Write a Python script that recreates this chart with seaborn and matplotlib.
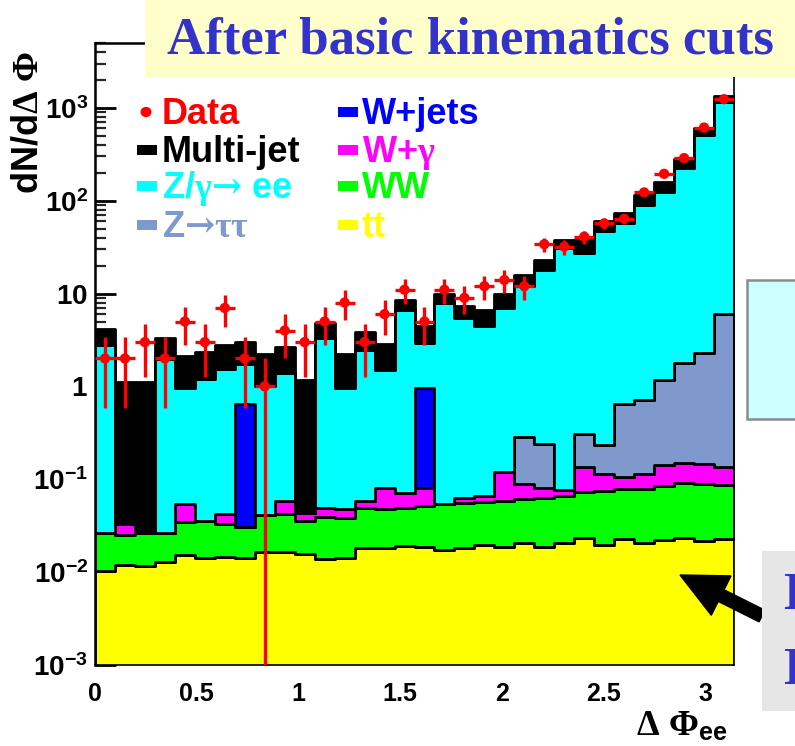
import numpy as np
import pandas as pd
import matplotlib
matplotlib.use("Agg")
import matplotlib.pyplot as plt
import seaborn as sns
from matplotlib.patches import Rectangle, FancyArrow, Circle
from matplotlib.transforms import Affine2D
from matplotlib.ticker import FixedLocator, FixedFormatter, LogLocator, NullFormatter

# ---------------- data ----------------
n_bins = 32
phi_min, phi_max = 0.0, np.pi

data_counts = [2, 2, 3, 2, 5, 3, 7, 2, 1, 4, 3, 5, 8, 3, 6, 11,
               5, 11, 9, 12, 14, 12, 34, 32, 41, 57, 64, 123, 195, 288, 614, 1241]

tt = [0.0103, 0.0120, 0.0117, 0.0130, 0.0152, 0.0142, 0.0145, 0.0143,
      0.0163, 0.0165, 0.0156, 0.0138, 0.0142, 0.0181, 0.0181, 0.0189,
      0.0188, 0.0174, 0.0184, 0.0197, 0.0187, 0.0208, 0.0187, 0.0208,
      0.0236, 0.0197, 0.0226, 0.0208, 0.0221, 0.0236, 0.0214, 0.0226]
ww = [0.0164, 0.0132, 0.0145, 0.0137, 0.0195, 0.0214, 0.0189, 0.0167,
      0.0247, 0.0255, 0.0200, 0.0255, 0.0245, 0.0315, 0.0303, 0.0307,
      0.0332, 0.0364, 0.0368, 0.0373, 0.0397, 0.0412, 0.0448, 0.0452,
      0.0494, 0.0553, 0.0554, 0.0587, 0.0626, 0.0684, 0.0666, 0.0634]
w_gamma = [0.0, 0.0082, 0.0, 0.0, 0.0200, 0.0, 0.0086, 0.0,
           0.0, 0.0160, 0.0082, 0.0095, 0.0088, 0.0084, 0.0330, 0.0223,
           0.0294, 0.0, 0.0084, 0.0090, 0.0616, 0.0260, 0.0179, 0.0110,
           0.0640, 0.0380, 0.0290, 0.0335, 0.0563, 0.0590, 0.0570, 0.0510]
w_jets = [0, 0, 0, 0, 0, 0, 0, 0.61, 0, 0, 0, 0, 0, 0, 0, 0,
          0.89, 0, 0, 0, 0, 0, 0, 0, 0, 0, 0, 0, 0, 0, 0, 0]
z_tautau = [0, 0, 0, 0, 0, 0, 0, 0, 0, 0, 0, 0, 0, 0, 0, 0,
            0, 0, 0, 0, 0, 0.197, 0.161, 0, 0.168, 0.119, 0.533, 0.597, 1.03, 1.65, 2.16, 5.91]
z_ee = [2.80, 0, 0, 1.96, 0.915, 1.154, 1.508, 1.11,
        0.979, 1.342, 0, 3.29, 0.922, 2.44, 1.42, 6.53,
        1.93, 7.85, 5.44, 4.43, 6.88, 11.7, 17.9, 30.9,
        27.1, 46.6, 56.9, 89.9, 121.8, 223, 511, 1164]
multijet = [1.34, 1.09, 1.09, 1.35, 1.18, 1.15, 1.23, 1.24,
            1.19, 1.25, 1.12, 1.50, 1.24, 1.40, 1.33, 1.90,
            1.60, 2.10, 1.80, 2.20, 3.0, 4.0, 5.1, 7.0,
            10.6, 14.2, 16.3, 25.4, 38.0, 58.0, 92.0, 185.0]

process_names = ["Multi-jet", "Z/g->ee", "Z->tautau", "W+jets", "W+gamma", "WW", "tt"]
process_values = [multijet, z_ee, z_tautau, w_jets, w_gamma, ww, tt]
process_colors = ["#000000", "#00FFFF", "#7F99CC", "#0000FF", "#FF00FF", "#00FF00", "#FFFF00"]

x_ticks = [0, 0.5, 1, 1.5, 2, 2.5, 3]
x_tick_labels = ["0", "0.5", "1", "1.5", "2", "2.5", "3"]
y_ticks = [1e-3, 1e-2, 1e-1, 1, 10, 1e2, 1e3]
y_tick_labels = [r"$\mathbf{10^{-3}}$", r"$\mathbf{10^{-2}}$", r"$\mathbf{10^{-1}}$",
                 r"$\mathbf{1}\ $", r"$\mathbf{10}\ $", r"$\mathbf{10^{2}}$", r"$\mathbf{10^{3}}$"]

# ---------------- style ----------------
sns.set_theme(style="white")
plt.rcParams['font.family'] = ['Liberation Sans', 'DejaVu Sans']
plt.rcParams['font.weight'] = 'bold'
plt.rcParams['mathtext.fontset'] = 'custom'
plt.rcParams['mathtext.rm'] = 'Liberation Serif'
plt.rcParams['mathtext.it'] = 'Liberation Serif'
plt.rcParams['mathtext.bf'] = 'Liberation Sans:bold'
plt.rcParams['mathtext.sf'] = 'DejaVu Serif'

W, H = 795, 746
fig = plt.figure(figsize=(W / 100, H / 100), dpi=100)
fig.patch.set_facecolor("white")


def fx(x):
    return x / W


def fy(y):
    return 1 - y / H


ax_l, ax_r, ax_t, ax_b = 95, 734, 43, 665
ax = fig.add_axes([fx(ax_l), fy(ax_b), (ax_r - ax_l) / W, (ax_b - ax_t) / H])

edges = np.linspace(phi_min, phi_max, n_bins + 1)
centers = 0.5 * (edges[:-1] + edges[1:])
bw = edges[1] - edges[0]

rows = []
for name, vals in zip(process_names, process_values):
    for c, v in zip(centers, vals):
        rows.append({"phi": c, "w": v, "process": name})
df = pd.DataFrame(rows)

sns.histplot(data=df, x="phi", weights="w", hue="process", hue_order=process_names,
             bins=n_bins, binrange=(phi_min, phi_max), multiple="stack",
             element="step", fill=True,
             palette=dict(zip(process_names, process_colors)), alpha=1,
             edgecolor="black", linewidth=2.0, legend=False, ax=ax)
for coll in ax.collections:
    coll.set_zorder(3)

ax.set_yscale("log")
ax.set_xlim(phi_min, phi_max)
ax.set_ylim(1e-3, 5000)

# data points
data_arr = np.array(data_counts, dtype=float)
ax.errorbar(centers, data_arr, yerr=np.sqrt(data_arr), xerr=bw / 2, fmt="none",
            ecolor="#FF0000", elinewidth=2.4, capsize=0, zorder=5)
sns.scatterplot(x=centers, y=data_arr, color="#FF0000", s=55, edgecolor="none",
                zorder=6, ax=ax, legend=False)

# axes cosmetics
ax.set_xlabel("")
ax.set_ylabel("")
ax.xaxis.set_major_locator(FixedLocator(x_ticks))
ax.xaxis.set_major_formatter(FixedFormatter(x_tick_labels))
ax.yaxis.set_major_locator(FixedLocator(y_ticks))
ax.yaxis.set_major_formatter(FixedFormatter(y_tick_labels))
ax.yaxis.set_minor_locator(LogLocator(base=10, subs=np.arange(2, 10), numticks=20))
ax.yaxis.set_minor_formatter(NullFormatter())
ax.tick_params(axis="y", which="major", direction="in", length=15, width=2,
               left=True, right=False, pad=5, labelsize=20, colors="black")
ax.tick_params(axis="y", which="minor", direction="in", length=8, width=1.6,
               left=True, right=False)
ax.tick_params(axis="x", which="both", length=0, pad=12, labelsize=18, colors="black")
for lab in ax.get_xticklabels() + ax.get_yticklabels():
    lab.set_fontweight("bold")
for s in ["left", "right", "top", "bottom"]:
    ax.spines[s].set_visible(True)
    ax.spines[s].set_color("black")
    ax.spines[s].set_zorder(4)
ax.spines["left"].set_linewidth(1.8)
ax.spines["top"].set_linewidth(1.8)
ax.spines["right"].set_linewidth(1.2)
ax.spines["bottom"].set_linewidth(1.2)

# axis titles
fig.text(fx(28), fy(51), r"$\mathbf{dN/d}\Delta\ \Phi$", rotation=90,
         ha="center", va="top", fontsize=26, color="black")
fig.text(fx(636), fy(726), r"$\Delta\ \Phi_{\mathbf{ee}}$", ha="left",
         va="center", fontsize=26, color="black")

# legend (ROOT-like)
leg_rows = [124, 162, 198, 237]
col1_mark, col1_text = 137, 162
col2_mark, col2_text = 338, 362
entries_col1 = [("Data", "#FF0000", "dot"),
                ("Multi-jet", "#000000", "box"),
                (r"Z/$\gamma\mathsf{→}$ ee", "#00FFFF", "box"),
                (r"Z$\mathsf{→}\tau\tau$", "#7F99CC", "box")]
entries_col2 = [("W+jets", "#0000FF", "box"),
                (r"W+$\gamma$", "#FF00FF", "box"),
                ("WW", "#00FF00", "box"),
                ("tt", "#FFFF00", "box")]
for entries, mx, tx in [(entries_col1, col1_mark, col1_text),
                        (entries_col2, col2_mark, col2_text)]:
    for (lab, col, kind), yb in zip(entries, leg_rows):
        fig.text(fx(tx), fy(yb), lab, color=col, fontsize=26, fontweight="bold",
                 ha="left", va="baseline")
        if kind == "dot":
            fig.add_artist(Circle((fx(mx + 9), fy(yb - 12)), 5.5 / W,
                                  facecolor=col, edgecolor="none"))
        else:
            fig.add_artist(Rectangle((fx(mx), fy(yb - 7)), 20 / W, 10 / H,
                                     facecolor=col, edgecolor="none"))

# title banner
fig.add_artist(Rectangle((fx(145), fy(77)), (W - 145) / W, 77 / H,
                         facecolor="#FFFFCC", edgecolor="none", zorder=2))
fig.text(fx(470), fy(40), "After basic kinematics cuts", family="Liberation Serif",
         fontweight="bold", fontsize=38, color="#3333CC", ha="center", va="center", zorder=3)

# side boxes from the slide
fig.add_artist(Rectangle((fx(747), fy(419)), (W - 747 + 5) / W, 139 / H,
                         facecolor="#CCFFFF", edgecolor="#8C8C8C", linewidth=1.8, zorder=2))
pix = Affine2D().scale(1 / W, 1 / H) + fig.transFigure
fig.add_artist(FancyArrow(762, H - 616, -82, 41, width=13, head_width=44, head_length=46,
                          length_includes_head=True, facecolor="black", edgecolor="black",
                          transform=pix, zorder=2))
fig.add_artist(Rectangle((fx(762), fy(711)), (W - 762 + 5) / W, 160 / H,
                         facecolor="#E6E6E6", edgecolor="none", zorder=3))
fig.text(fx(783), fy(596), "E", family="Liberation Serif", fontweight="bold",
         fontsize=38, color="#3333CC", ha="left", va="center", zorder=4)
fig.text(fx(783), fy(671), "E", family="Liberation Serif", fontweight="bold",
         fontsize=38, color="#3333CC", ha="left", va="center", zorder=4)

fig.savefig("out.png", dpi=100)
